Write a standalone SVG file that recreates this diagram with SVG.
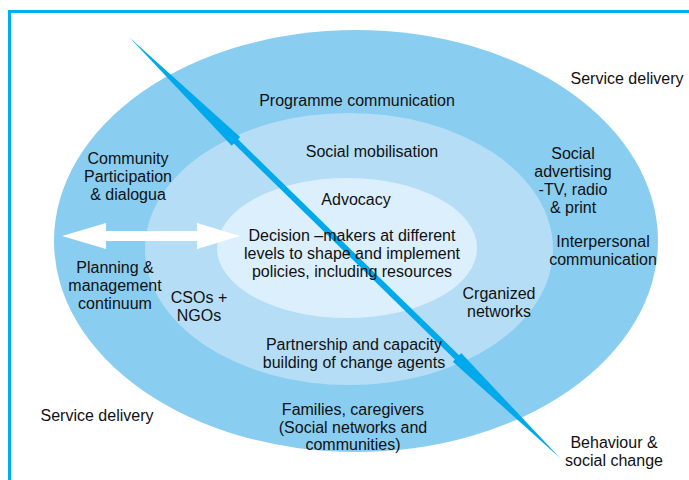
<svg xmlns="http://www.w3.org/2000/svg" width="689" height="480" viewBox="0 0 689 480">
<style>
text{font-family:"Liberation Sans",Arial,sans-serif;font-size:16px;fill:#111;text-anchor:middle}
.frame{stroke:#00AEEF;stroke-width:3;fill:none}
</style>
<rect width="689" height="480" fill="#fff"/>
<path class="frame" d="M8,11.5 H689 M9.5,11 V480"/>
<g id="outer"><ellipse cx="356" cy="241" rx="302" ry="211" fill="#89CDF1"/></g>
<g id="middle"><ellipse cx="349" cy="249" rx="204" ry="136" fill="#B5DEF6"/></g>
<g id="inner"><ellipse cx="347" cy="248" rx="130" ry="70" fill="#DBEFFC"/></g>
<g id="connectors">
<polygon points="130,38 231.7,145.7 233.8,143.5 454.9,359.5 452.8,361.7 560,458 461.2,353.1 459.1,355.3 238,139.3 240.1,137.1" fill="#00A9EC"/>
<polygon points="62,236 106,223 106,231 197,231 197,223 240,236 197,249 197,241 106,241 106,249" fill="#fff"/>
</g>
<g id="labels">
<text x="627" y="84">Service delivery</text>
<text x="357" y="106">Programme communication</text>
<text x="372" y="157">Social mobilisation</text>
<text x="356" y="205">Advocacy</text>
<text x="352" y="241">Decision –makers at different</text>
<text x="352" y="259">levels to shape and implement</text>
<text x="352" y="277">policies, including resources</text>
<text x="128" y="164">Community</text>
<text x="128" y="182">Participation</text>
<text x="128" y="200">&amp; dialogua</text>
<text x="115" y="273">Planning &amp;</text>
<text x="115" y="291">management</text>
<text x="115" y="309">continuum</text>
<text x="199" y="303">CSOs +</text>
<text x="199" y="321">NGOs</text>
<text x="573" y="159">Social</text>
<text x="573" y="177">advertising</text>
<text x="573" y="195">-TV, radio</text>
<text x="573" y="213">&amp; print</text>
<text x="603" y="247">Interpersonal</text>
<text x="603" y="265">communication</text>
<text x="499" y="299">Crganized</text>
<text x="499" y="317">networks</text>
<text x="354" y="350">Partnership and capacity</text>
<text x="354" y="368">building of change agents</text>
<text x="353" y="415">Families, caregivers</text>
<text x="353" y="433">(Social networks and</text>
<text x="353" y="450">communities)</text>
<text x="97" y="421">Service delivery</text>
<text x="614" y="448">Behaviour &amp;</text>
<text x="614" y="466">social change</text>
</g>
</svg>
